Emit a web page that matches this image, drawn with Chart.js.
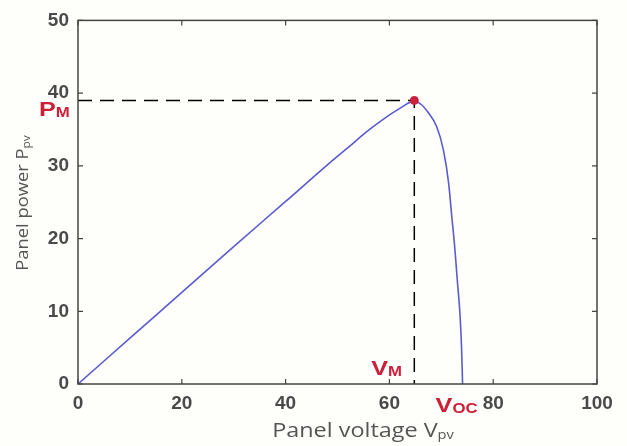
<!DOCTYPE html>
<html>
<head>
<meta charset="utf-8">
<script src="https://cdn.jsdelivr.net/npm/chart.js@4.4.1/dist/chart.umd.min.js"></script>
<style>
  html, body { margin: 0; padding: 0; background: #fefefa; }
  #wrap { width: 627px; height: 446px; }
</style>
</head>
<body>
<div id="wrap"><canvas id="myChart" width="627" height="446"></canvas></div>
<script>
// P-V curve
const voltage = [0, 10, 20, 30, 40, 48, 52, 56, 59, 62, 64.8, 66.2, 67.4, 69.1, 70.4, 71.4, 72.0, 72.6, 73.1, 73.6, 73.9, 74.1];
const power   = [0, 6.3, 12.6, 18.9, 25.1, 30.1, 32.5, 34.9, 36.5, 37.9, 38.9, 38.4, 37.4, 35.4, 32.2, 27.7, 23.2, 18.7, 14.1, 9.6, 5.1, 0];

// maximum power point and open circuit voltage
const VM = 64.8;
const PM = 39;
const VOC = 74.1;

const xTicks = [0, 20, 40, 60, 80, 100];
const yTicks = [0, 10, 20, 30, 40, 50];

const curve = voltage.map((v, i) => ({ x: v, y: power[i] }));
const guide = [{ x: 0, y: PM }, { x: VM, y: PM }, { x: VM, y: 0 }];

const red = '#cc1f3a';
const gray = '#4a4a4a';

// draw rich text: segments [text, font, dy], stretched a bit sideways like the source
function richText(ctx, x, y, parts, align, stretch) {
    stretch = stretch || 1;
    let w = 0;
    parts.forEach(p => { ctx.font = p[1]; w += ctx.measureText(p[0]).width; });
    ctx.save();
    ctx.translate(x, y);
    ctx.scale(stretch, 1);
    let cx = align === 'center' ? -w / 2 : 0;
    parts.forEach(p => {
        ctx.font = p[1];
        ctx.fillText(p[0], cx, p[2] || 0);
        cx += ctx.measureText(p[0]).width;
    });
    ctx.restore();
}

const decor = {
    id: 'decor',
    beforeDraw(chart) {
        const ctx = chart.ctx;
        ctx.save();
        ctx.fillStyle = '#fefefa';
        ctx.fillRect(0, 0, chart.width, chart.height);
        ctx.restore();
    },
    afterDraw(chart) {
        const ctx = chart.ctx;
        const a = chart.chartArea;
        const xs = chart.scales.x, ys = chart.scales.y;
        ctx.save();
        // box
        ctx.strokeStyle = '#444';
        ctx.lineWidth = 1.5;
        ctx.strokeRect(a.left, a.top, a.right - a.left, a.bottom - a.top);
        // inward ticks
        ctx.lineWidth = 1.2;
        ctx.beginPath();
        xTicks.forEach(t => {
            const px = xs.getPixelForValue(t);
            ctx.moveTo(px, a.bottom); ctx.lineTo(px, a.bottom - 5);
            ctx.moveTo(px, a.top); ctx.lineTo(px, a.top + 5);
        });
        yTicks.forEach(t => {
            const py = ys.getPixelForValue(t);
            ctx.moveTo(a.left, py); ctx.lineTo(a.left + 5, py);
            ctx.moveTo(a.right, py); ctx.lineTo(a.right - 5, py);
        });
        ctx.stroke();

        // axis titles
        ctx.fillStyle = '#555';
        ctx.textBaseline = 'alphabetic';
        richText(ctx, 363, 437, [
            ['Panel voltage V', '20px "Open Sans"'],
            ['pv', '12.5px "Open Sans"', 2]
        ], 'center', 1.17);
        ctx.save();
        ctx.translate(28, 203);
        ctx.rotate(-Math.PI / 2);
        richText(ctx, 0, 0, [
            ['Panel power P', '17px "Open Sans"'],
            ['pv', '11px "Open Sans"', 2]
        ], 'center', 1.08);
        ctx.restore();

        // annotations
        ctx.fillStyle = red;
        const pmY = ys.getPixelForValue(PM);
        richText(ctx, 39, pmY + 16, [
            ['P', 'bold 21px "Liberation Sans"'],
            ['M', 'bold 14px "Liberation Sans"', 1]
        ], 'left', 1.2);
        const vmX = xs.getPixelForValue(VM);
        richText(ctx, vmX - 43, a.bottom - 9, [
            ['V', 'bold 21px "Liberation Sans"'],
            ['M', 'bold 14px "Liberation Sans"', 1]
        ], 'left', 1.2);
        const vocX = xs.getPixelForValue(VOC);
        richText(ctx, vocX - 27, a.bottom + 28, [
            ['V', 'bold 21px "Liberation Sans"'],
            ['OC', 'bold 14px "Liberation Sans"', 1]
        ], 'left', 1.2);
        ctx.restore();
    }
};

const data = {
    datasets: [{
        label: 'P-V',
        data: curve,
        showLine: true,
        borderColor: '#5b5bd0',
        borderWidth: 1.6,
        pointRadius: 0,
        cubicInterpolationMode: 'monotone',
        order: 2
    }, {
        label: 'guide',
        data: guide,
        showLine: true,
        borderColor: '#000',
        borderWidth: 1.5,
        borderDash: [14, 8],
        pointRadius: 0,
        order: 3
    }, {
        label: 'MPP',
        data: [{ x: VM, y: PM }],
        pointRadius: 4,
        backgroundColor: red,
        borderColor: red,
        order: 1
    }]
};

const tickFont = { family: '"Liberation Sans"', size: 19, weight: 'bold' };

const config = {
    type: 'scatter',
    data: data,
    plugins: [decor],
    options: {
        responsive: false,
        animation: false,
        layout: { padding: { top: 16, right: 30, left: 0, bottom: 0 } },
        plugins: {
            legend: { display: false },
            tooltip: { enabled: false }
        },
        scales: {
            x: {
                min: 0,
                max: 100,
                afterFit: s => { s.height = 62; },
                afterBuildTicks: s => { s.ticks = xTicks.map(v => ({ value: v })); },
                grid: { display: false, drawTicks: false },
                border: { display: false },
                ticks: { font: tickFont, color: gray, padding: 8, maxRotation: 0 }
            },
            y: {
                min: 0,
                max: 50,
                afterFit: s => { s.width = 78; },
                afterBuildTicks: s => { s.ticks = yTicks.map(v => ({ value: v })); },
                grid: { display: false, drawTicks: false },
                border: { display: false },
                ticks: { font: tickFont, color: gray, padding: 9 }
            }
        }
    }
};

const ctx = document.getElementById('myChart').getContext('2d');
new Chart(ctx, config);
</script>
</body>
</html>
